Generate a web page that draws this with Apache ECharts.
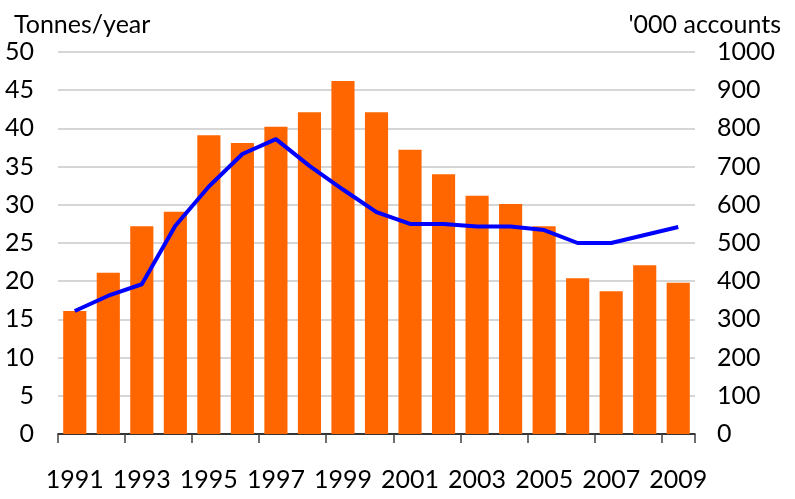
<!DOCTYPE html>
<html>
<head>
<meta charset="utf-8">
<script src="https://cdn.jsdelivr.net/npm/echarts@6/dist/echarts.min.js"></script>
<style>
  html, body { margin: 0; padding: 0; background: #fff; }
  #chart { width: 795px; height: 499px; }
</style>
</head>
<body>
<div id="chart"></div>
<script>
var years = ['1991', '1992', '1993', '1994', '1995', '1996', '1997', '1998', '1999', '2000',
  '2001', '2002', '2003', '2004', '2005', '2006', '2007', '2008', '2009'];

// tonnes per year (left axis)
var tonnes = [16.1, 21.1, 27.2, 29.1, 39.1, 38.1, 40.2, 42.1, 46.2, 42.1,
  37.2, 34.0, 31.2, 30.1, 27.2, 20.4, 18.7, 22.1, 19.8];

// thousand accounts (right axis)
var accounts = [322, 362, 392, 545, 648, 733, 772, 702, 640, 581,
  550, 550, 543, 543, 534, 500, 500, 521, 542];

var font = 'Lato';

var chart = echarts.init(document.getElementById('chart'));

var option = {
  animation: false,
  textStyle: { fontFamily: font },
  title: [
    {
      text: 'Tonnes/year',
      left: 9, top: 7,
      textStyle: { fontFamily: font, fontSize: 25, fontWeight: 'normal', color: '#000' }
    },
    {
      text: "'000 accounts",
      right: 9, top: 7,
      textStyle: { fontFamily: font, fontSize: 25, fontWeight: 'normal', color: '#000' }
    }
  ],
  grid: { left: 58, right: 100, top: 52, bottom: 65 },
  xAxis: {
    type: 'category',
    data: years,
    axisLine: { lineStyle: { color: '#000', width: 1.5 } },
    axisTick: { show: true, length: 9, lineStyle: { color: '#404040', width: 1.5 } },
    axisLabel: {
      interval: 1, margin: 33,
      fontSize: 25, color: '#000', fontFamily: font
    }
  },
  yAxis: [
    {
      type: 'value', min: 0, max: 50, interval: 5,
      axisLine: { show: false },
      axisTick: { show: false },
      splitLine: { lineStyle: { color: '#c8c8c8', width: 1.5 } },
      axisLabel: { margin: 24, fontSize: 25, color: '#000', fontFamily: font }
    },
    {
      type: 'value', min: 0, max: 1000, interval: 100,
      position: 'right',
      axisLine: { show: false },
      axisTick: { show: false },
      splitLine: { show: false },
      axisLabel: {
        margin: 22, fontSize: 25, color: '#000', fontFamily: font,
        formatter: function (v) { return String(v); }
      }
    }
  ],
  series: [
    {
      type: 'bar',
      data: tonnes,
      yAxisIndex: 0,
      barCategoryGap: '31%',
      itemStyle: { color: '#ff6600' }
    },
    {
      type: 'line',
      data: accounts,
      yAxisIndex: 1,
      symbol: 'none',
      lineStyle: { color: '#0000ff', width: 4 }
    }
  ]
};

chart.setOption(option);
</script>
</body>
</html>
